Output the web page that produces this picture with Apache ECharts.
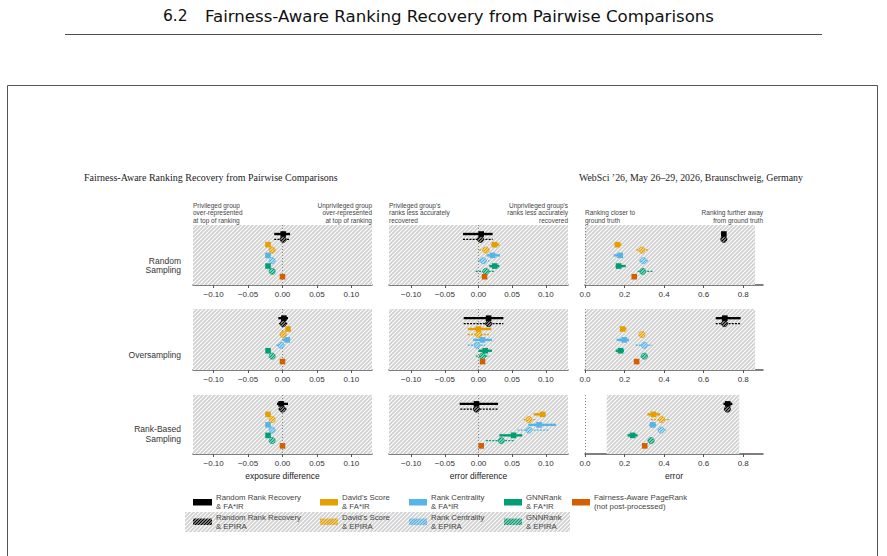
<!DOCTYPE html>
<html><head><meta charset="utf-8">
<script src="https://cdn.jsdelivr.net/npm/echarts@6/dist/echarts.min.js"></script>
<style>html,body{margin:0;padding:0;background:#fff}#c{width:887px;height:556px}</style>
</head><body><div id="c"></div>
<script>
// ---------------- DATA ----------------
const methods = [
  'Random Rank Recovery & FA*IR', 'Random Rank Recovery & EPIRA',
  "David's Score & FA*IR", "David's Score & EPIRA",
  'Rank Centrality & FA*IR', 'Rank Centrality & EPIRA',
  'GNNRank & FA*IR', 'GNNRank & EPIRA',
  'Fairness-Aware PageRank (not post-processed)'
];
const methodKind = ['fair','epira','fair','epira','fair','epira','fair','epira','plain'];
const methodColors = ['#000000','#000000','#E69F00','#E69F00','#56B4E9','#56B4E9','#009E73','#009E73','#D55E00'];
const rowNames = ['Random\nSampling', 'Oversampling', 'Rank-Based\nSampling'];
const colNames = ['exposure difference', 'error difference', 'error'];
const colTicks = [[-0.1,-0.05,0,0.05,0.1],[-0.1,-0.05,0,0.05,0.1],[0,0.2,0.4,0.6,0.8]];
const colRange = [[-0.13,0.13],[-0.133,0.133],[0,0.9]];
const leftNotes = ['Privileged group\nover-represented\nat top of ranking', "Privileged group's\nranks less accurately\nrecovered", 'Ranking closer to\nground truth'];
const rightNotes = ['Unprivileged group\nover-represented\nat top of ranking', "Unprivileged group's\nranks less accurately\nrecovered", 'Ranking further away\nfrom ground truth'];

// each entry: [mean, low, high] in method order
const randomExposure = [[0.001,-0.012,0.011],[0.001,-0.012,0.011],[-0.021,-0.023,-0.019],[-0.015,-0.017,-0.013],[-0.021,-0.023,-0.019],[-0.015,-0.017,-0.013],[-0.021,-0.023,-0.019],[-0.015,-0.017,-0.013],[0,0,0]];
const overExposure = [[0.002,-0.006,0.008],[0.001,-0.005,0.007],[0.008,0.006,0.010],[0.001,-0.004,0.006],[0.007,0.000,0.011],[-0.002,-0.009,0.002],[-0.021,-0.023,-0.019],[-0.015,-0.017,-0.013],[0,0,0]];
const rankExposure = [[-0.002,-0.008,0.008],[0.000,-0.006,0.006],[-0.021,-0.023,-0.019],[-0.015,-0.017,-0.013],[-0.021,-0.023,-0.019],[-0.015,-0.017,-0.013],[-0.021,-0.023,-0.019],[-0.015,-0.017,-0.013],[0,0,0]];
const randomErrDiff = [[0.004,-0.023,0.021],[0.003,-0.023,0.021],[0.024,0.019,0.031],[0.011,0.001,0.016],[0.021,0.012,0.032],[0.007,0.000,0.016],[0.024,0.016,0.031],[0.011,-0.004,0.023],[0.009,0.009,0.009]];
const overErrDiff = [[0.015,-0.022,0.037],[0.015,-0.022,0.037],[0.000,-0.016,0.019],[0.000,-0.016,0.017],[0.006,-0.008,0.020],[-0.002,-0.016,0.010],[0.010,0.000,0.020],[0.006,-0.004,0.016],[0.006,0.006,0.006]];
const rankErrDiff = [[-0.003,-0.028,0.029],[-0.003,-0.027,0.029],[0.095,0.082,0.100],[0.075,0.067,0.086],[0.090,0.074,0.115],[0.075,0.058,0.105],[0.052,0.031,0.065],[0.034,0.011,0.054],[0.004,0.004,0.004]];
const randomError = [[0.702,0.700,0.704],[0.702,0.700,0.704],[0.164,0.150,0.184],[0.288,0.260,0.318],[0.178,0.145,0.192],[0.295,0.275,0.325],[0.170,0.155,0.206],[0.292,0.266,0.342],[0.249,0.249,0.249]];
const overError = [[0.707,0.661,0.787],[0.705,0.661,0.787],[0.190,0.180,0.210],[0.288,0.275,0.300],[0.198,0.160,0.222],[0.300,0.256,0.340],[0.180,0.155,0.197],[0.300,0.282,0.317],[0.261,0.261,0.261]];
const rankError = [[0.722,0.700,0.745],[0.720,0.705,0.735],[0.346,0.315,0.380],[0.388,0.333,0.430],[0.342,0.325,0.360],[0.385,0.368,0.410],[0.241,0.215,0.266],[0.334,0.317,0.351],[0.302,0.302,0.302]];
const panels = [
  [randomExposure, randomErrDiff, randomError],
  [overExposure, overErrDiff, overError],
  [rankExposure, rankErrDiff, rankError]
];
// hatched background extent on x for each panel
const hatchRanges = [
  [[-0.13,0.13],[-0.133,0.133],[0,0.86]],
  [[-0.13,0.13],[-0.133,0.133],[0,0.86]],
  [[-0.13,0.13],[-0.133,0.133],[0.11,0.78]]
];

// ---------------- STYLE HELPERS ----------------
function hatch(bg, fg, size, lw) {
  const c = document.createElement('canvas');
  c.width = size; c.height = size;
  const g = c.getContext('2d');
  if (bg) { g.fillStyle = bg; g.fillRect(0,0,size,size); }
  g.strokeStyle = fg; g.lineWidth = lw;
  g.beginPath();
  g.moveTo(-1, size+1); g.lineTo(size+1, -1);
  g.moveTo(-1, 1); g.lineTo(1, -1);
  g.moveTo(size-1, size+1); g.lineTo(size+1, size-1);
  g.stroke();
  return {image: c, repeat: 'repeat', imageWidth: size, imageHeight: size};
}
const bgHatch = hatch('#d0d0d0', '#ffffff', 4, 1.1);
const markPat = {};
['#000000','#E69F00','#56B4E9','#009E73','#D55E00'].forEach(c => { markPat[c] = hatch('#ffffff', c, 3, 1.5); });
const legPat = {};
['#000000','#E69F00','#56B4E9','#009E73'].forEach(c => { legPat[c] = hatch(null, c, 3, 1.4); });

const FONT = 'Liberation Sans';
const gridLeft = [193, 389, 585];
const gridWidth = [179, 179, 178];
const gridTop = [225, 309, 395];
const gridHeight = [60, 61, 59];
const yMin = -1.69, yMax = 9.55;

function fmt(col) {
  return v => {
    const d = col === 2 ? 1 : 2;
    const s = Math.abs(v).toFixed(d);
    return (v < -1e-9 ? '\u2212' : '') + s;
  };
}

function renderItem(params, api) {
  const mean = api.value(0), lo = api.value(1), hi = api.value(2), yi = api.value(3);
  const kind = methodKind[yi], color = methodColors[yi];
  const p = api.coord([mean, yi]);
  const a = api.coord([lo, yi]);
  const b = api.coord([hi, yi]);
  const ch = [];
  if (hi - lo > 1e-6) {
    ch.push({type:'line', shape:{x1:a[0], y1:a[1], x2:b[0], y2:b[1]},
      style:{stroke:color, lineWidth: kind==='epira'?1.4:2.4, lineDash: kind==='epira'?[2,1.2]:null}});
  }
  if (kind === 'epira') {
    ch.push({type:'circle', shape:{cx:p[0], cy:p[1], r:3.1}, style:{fill: markPat[color], stroke: color, lineWidth: 0.7}});
  } else {
    ch.push({type:'rect', shape:{x:p[0]-2.8, y:p[1]-2.8, width:5.6, height:5.6}, style:{fill: color}});
  }
  return {type:'group', children: ch};
}

const grid = [], xAxis = [], yAxis = [], series = [];
for (let r = 0; r < 3; r++) {
  for (let c = 0; c < 3; c++) {
    const k = r*3 + c;
    grid.push({left: gridLeft[c], top: gridTop[r], width: gridWidth[c], height: gridHeight[r], containLabel: false});
    xAxis.push({
      type: 'value', gridIndex: k, min: colRange[c][0], max: colRange[c][1],
      axisLine: {show: true, onZero: false, lineStyle: {color: '#555', width: 1.5}},
      axisTick: {show: true, length: 3, lineStyle: {color: '#555'}, customValues: colTicks[c]},
      axisLabel: {color: '#333', fontSize: 8, fontFamily: FONT, margin: 5, customValues: colTicks[c], formatter: fmt(c)},
      splitLine: {show: false},
      name: r === 2 ? colNames[c] : '', nameLocation: 'middle', nameGap: 17,
      nameTextStyle: {color: '#222', fontSize: 8.5, fontFamily: FONT}
    });
    yAxis.push({type: 'value', gridIndex: k, inverse: true, min: yMin, max: yMax, show: false});
    const d = panels[r][c];
    const hr = hatchRanges[r][c];
    series.push({
      type: 'scatter', xAxisIndex: k, yAxisIndex: k, symbolSize: 0, silent: true, z: 1,
      data: d.map((v, i) => [v[0], i]),
      markArea: {silent: true, itemStyle: {color: bgHatch}, label: {show: false},
        data: [[{coord: [hr[0], yMin]}, {coord: [hr[1], yMax]}]]},
      markLine: {silent: true, symbol: 'none', label: {show: false}, animation: false,
        lineStyle: {color: '#888', type: [1, 2], width: 1}, data: [{xAxis: 0}]}
    });
    series.push({
      type: 'custom', xAxisIndex: k, yAxisIndex: k, z: 5, renderItem: renderItem,
      encode: {x: [0,1,2], y: 3},
      data: d.map((v, i) => [v[0], v[1], v[2], i])
    });
  }
}

// ---------------- TEXT / LEGEND ----------------
const graphic = [];
graphic.push({type:'text', style:{text:'6.2', x:163, y:16, textVerticalAlign:'middle', fontSize:15.5, fontFamily:'DejaVu Sans', fill:'#111'}});
graphic.push({type:'text', style:{text:'Fairness-Aware Ranking Recovery from Pairwise Comparisons', x:205, y:16, textVerticalAlign:'middle', fontSize:16.6, fontFamily:'DejaVu Sans', fill:'#111'}});
graphic.push({type:'line', shape:{x1:65, y1:34.5, x2:822, y2:34.5}, style:{stroke:'#222', lineWidth:0.8}});
graphic.push({type:'rect', shape:{x:7.5, y:85.5, width:870, height:500}, style:{fill:'none', stroke:'#555', lineWidth:1}});
graphic.push({type:'text', style:{text:'Fairness-Aware Ranking Recovery from Pairwise Comparisons', x:84, y:177, textVerticalAlign:'middle', fontSize:10, fontFamily:'Liberation Serif', fill:'#222'}});
graphic.push({type:'text', style:{text:'WebSci \u201926, May 26\u201329, 2026, Braunschweig, Germany', x:803, y:177, textAlign:'right', textVerticalAlign:'middle', fontSize:9.9, fontFamily:'Liberation Serif', fill:'#222'}});
// column notes
for (let c = 0; c < 3; c++) {
  graphic.push({type:'text', style:{text:leftNotes[c], x:gridLeft[c], y:gridTop[0]-1, textVerticalAlign:'bottom', fontSize:6.5, lineHeight:7.4, fontFamily:FONT, fill:'#444'}});
  graphic.push({type:'text', style:{text:rightNotes[c], x:gridLeft[c]+gridWidth[c], y:gridTop[0]-1, textAlign:'right', textVerticalAlign:'bottom', fontSize:6.5, lineHeight:7.4, fontFamily:FONT, fill:'#444'}});
}
// row labels
const rowLabelY = [265.5, 355, 434];
for (let r = 0; r < 3; r++) {
  graphic.push({type:'text', style:{text:rowNames[r], x:181, y:rowLabelY[r], textAlign:'right', textVerticalAlign:'middle', fontSize:8.5, lineHeight:9.6, fontFamily:FONT, fill:'#333'}});
}
// legend
graphic.push({type:'rect', shape:{x:185, y:512, width:385, height:20}, style:{fill: bgHatch}});
const legX = [193, 320, 409, 504, 572];
const legW = [19, 18, 18, 18, 18];
const legTextA = ['Random Rank Recovery\n& FA*IR', "David's Score\n& FA*IR", 'Rank Centrality\n& FA*IR', 'GNNRank\n& FA*IR', 'Fairness-Aware PageRank\n(not post-processed)'];
const legTextB = ['Random Rank Recovery\n& EPIRA', "David's Score\n& EPIRA", 'Rank Centrality\n& EPIRA', 'GNNRank\n& EPIRA'];
const legCol = ['#000000','#E69F00','#56B4E9','#009E73','#D55E00'];
for (let i = 0; i < 5; i++) {
  graphic.push({type:'rect', shape:{x:legX[i], y:499, width:legW[i], height:6.5}, style:{fill: legCol[i]}});
  graphic.push({type:'text', style:{text:legTextA[i], x:legX[i]+legW[i]+4, y:502, textVerticalAlign:'middle', fontSize:7.8, lineHeight:8.6, fontFamily:FONT, fill:'#444'}});
  if (i < 4) {
    graphic.push({type:'rect', shape:{x:legX[i], y:518.5, width:legW[i], height:6.5}, style:{fill: legPat[legCol[i]]}});
    graphic.push({type:'text', style:{text:legTextB[i], x:legX[i]+legW[i]+4, y:522, textVerticalAlign:'middle', fontSize:7.8, lineHeight:9.2, fontFamily:FONT, fill:'#444'}});
  }
}

const chart = echarts.init(document.getElementById('c'), null, {renderer: 'svg'});
chart.setOption({
  animation: false,
  backgroundColor: '#ffffff',
  grid, xAxis, yAxis, series, graphic
});
</script></body></html>
